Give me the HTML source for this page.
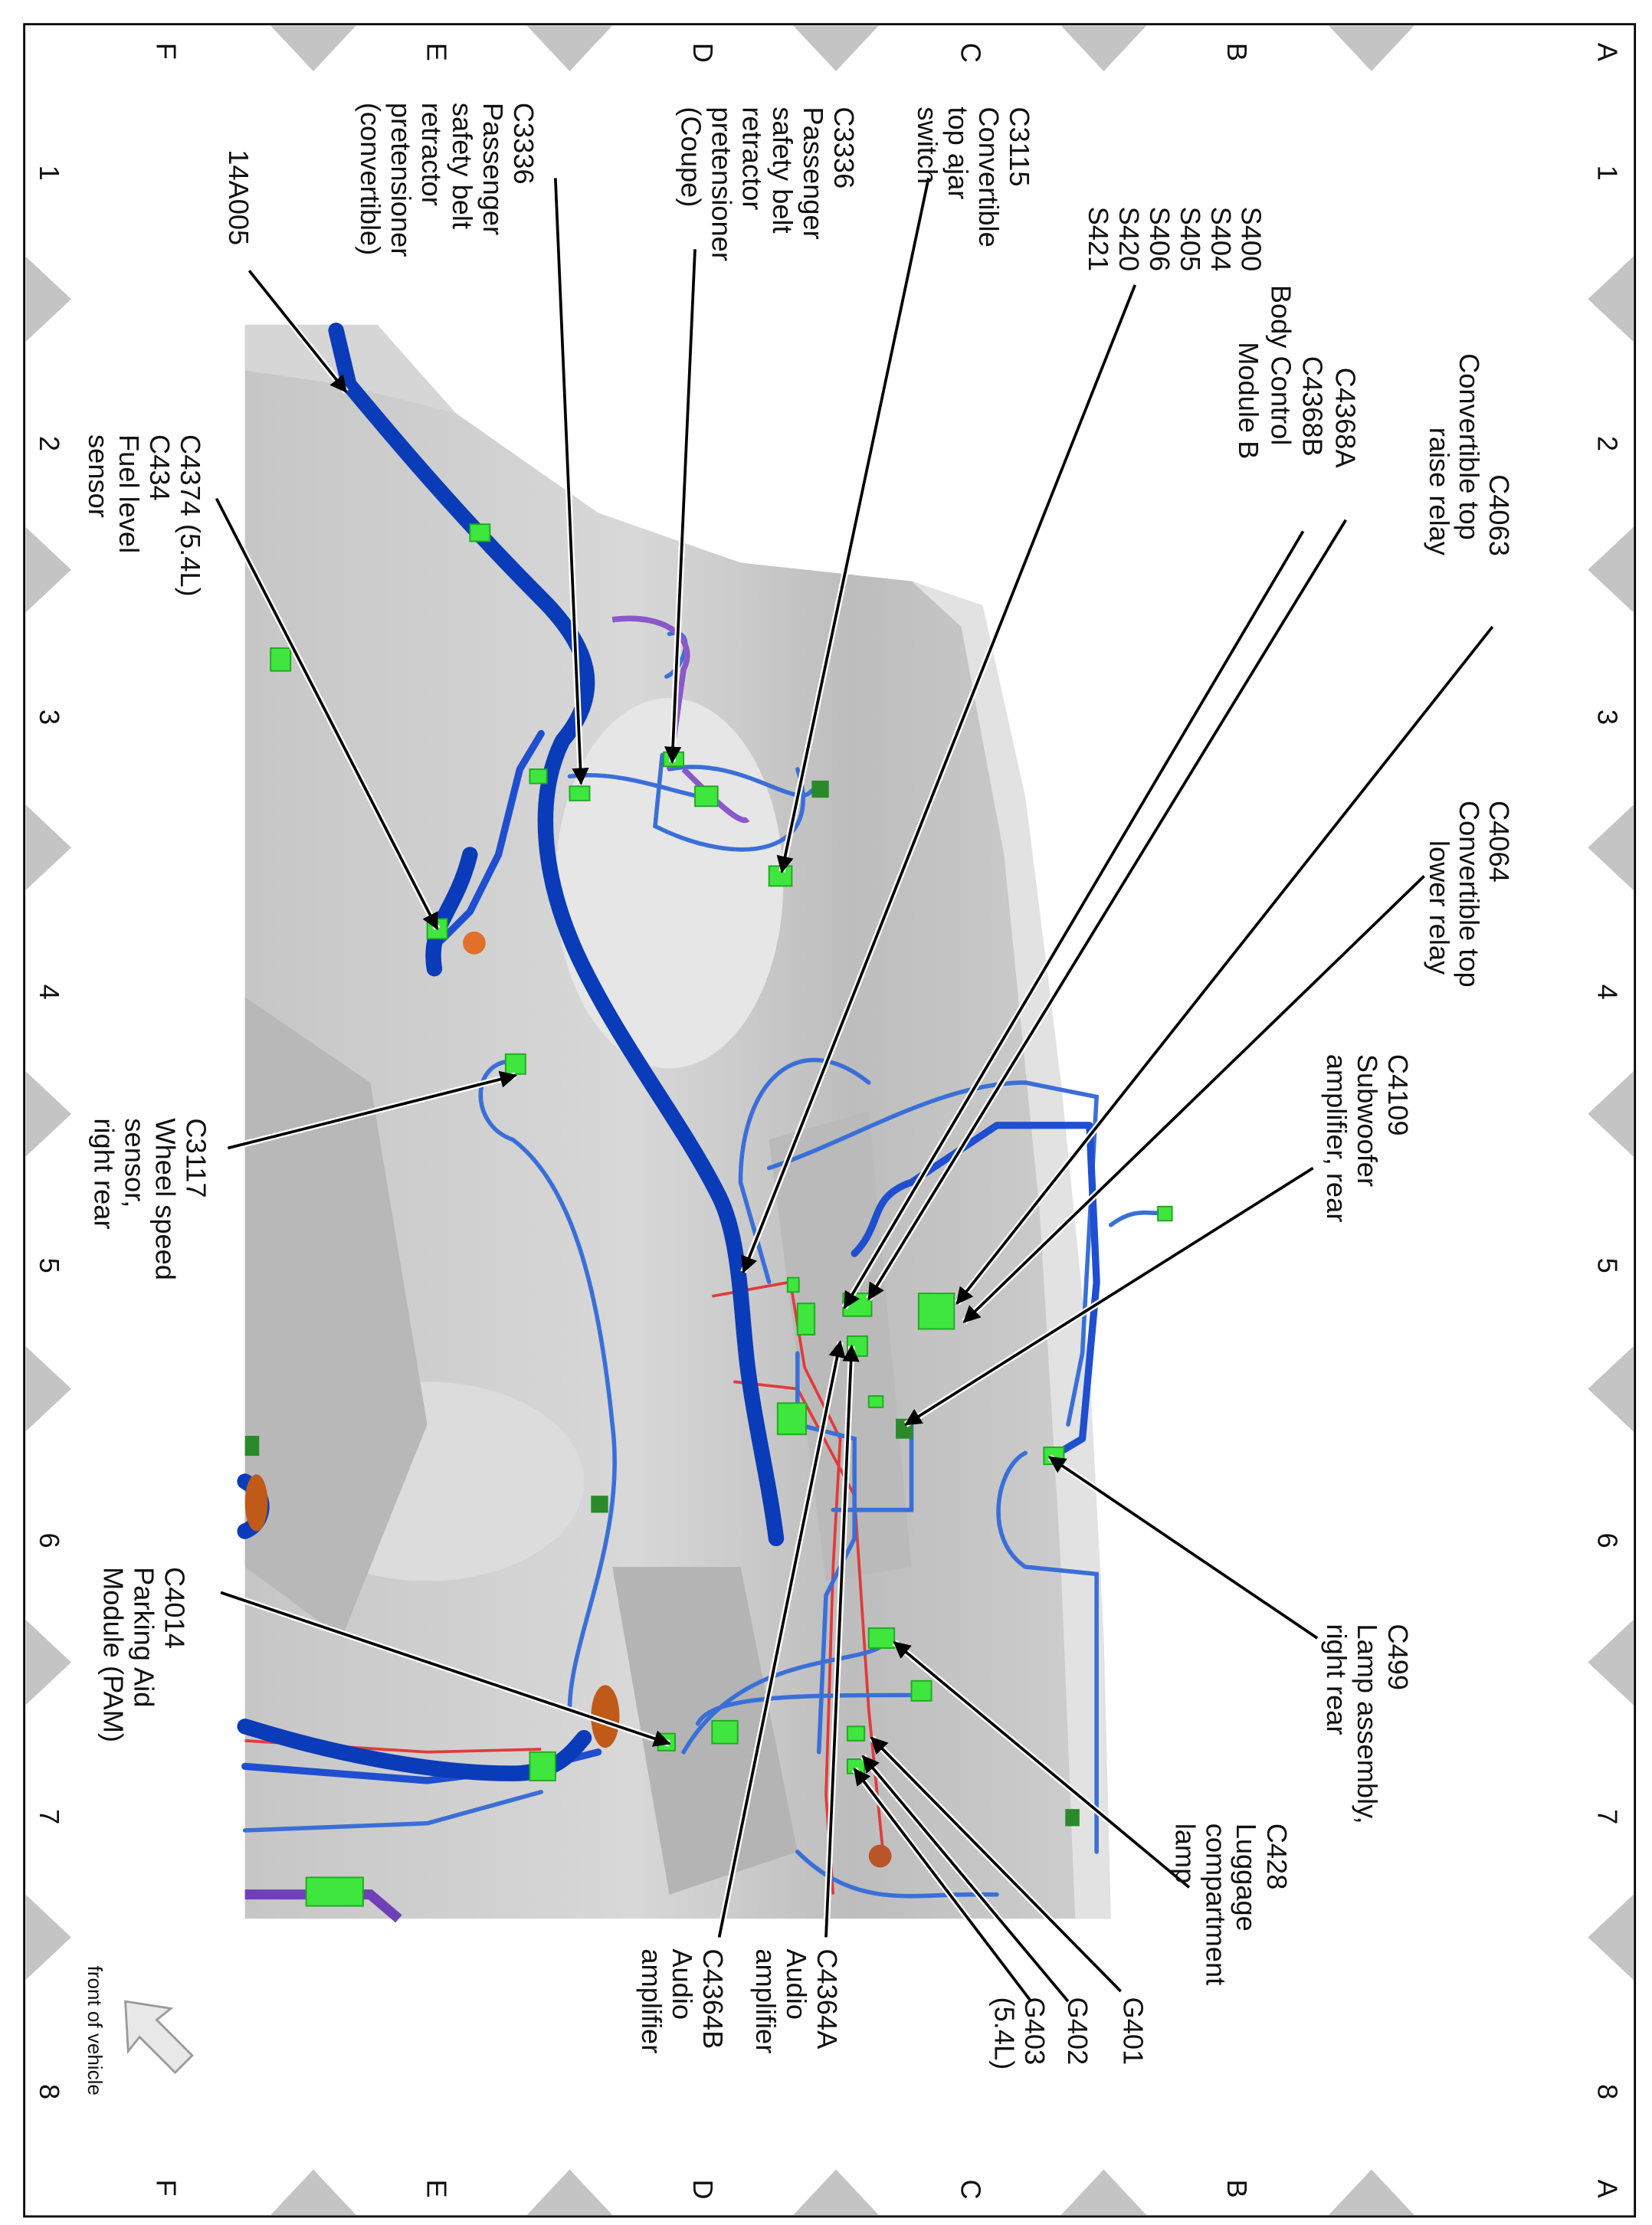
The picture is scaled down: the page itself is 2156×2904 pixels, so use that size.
<!DOCTYPE html>
<html><head><meta charset="utf-8"><style>
html,body{margin:0;padding:0;background:#fff;width:2156px;height:2904px;overflow:hidden}
svg{display:block}
text{font-family:"Liberation Sans",Arial,sans-serif;font-size:19.5px;fill:#111}
.g{font-size:24px}
.ld{stroke:#000;stroke-width:2;fill:none}
.lh{stroke:#fff;stroke-width:4.5;fill:none}
.w{fill:none;stroke:#1f4fd0;stroke-linecap:round;stroke-linejoin:round}
.wt{fill:none;stroke:#0a3bb8;stroke-width:11;stroke-linecap:round;stroke-linejoin:round}
.wl{fill:none;stroke:#3a6fd8;stroke-width:3;stroke-linecap:round}
.r{fill:none;stroke:#e23a3a;stroke-width:2}
.c{fill:#3ee63e;stroke:#1fa81f;stroke-width:1}
.cd{fill:#2a8a2a}
.tri{fill:#c4c4c4}
</style></head><body>
<svg width="2156" height="2904" viewBox="0 0 1160 1562" preserveAspectRatio="none" xmlns="http://www.w3.org/2000/svg">
<defs>
<marker id="ah" viewBox="0 0 10 10" refX="9" refY="5" markerWidth="6" markerHeight="6" orient="auto"><path d="M0,0 L10,5 L0,10 z" fill="#000"/></marker>
<linearGradient id="bg" x1="0" y1="0" x2="1" y2="0"><stop offset="0" stop-color="#c6c6c6"/><stop offset=".45" stop-color="#d8d8d8"/><stop offset=".7" stop-color="#bdbdbd"/><stop offset="1" stop-color="#cfcfcf"/></linearGradient>
</defs>
<rect width="1160" height="1562" fill="#fff"/>
<!-- frame -->
<rect x="17" y="17" width="1131" height="1539" fill="none" stroke="#000" stroke-width="1.5"/>
<!-- edge triangles top -->
<g class="tri">
<polygon points="190,18 250,18 220,50"/><polygon points="370,18 430,18 400,50"/><polygon points="557,18 617,18 587,50"/><polygon points="745,18 805,18 775,50"/><polygon points="933,18 993,18 963,50"/>
<polygon points="190,1555 250,1555 220,1523"/><polygon points="370,1555 430,1555 400,1523"/><polygon points="557,1555 617,1555 587,1523"/><polygon points="745,1555 805,1555 775,1523"/><polygon points="933,1555 993,1555 963,1523"/>
<polygon points="18,180 18,240 50,210"/><polygon points="18,370 18,430 50,400"/><polygon points="18,565 18,625 50,595"/><polygon points="18,752 18,812 50,782"/><polygon points="18,945 18,1005 50,975"/><polygon points="18,1137 18,1197 50,1167"/><polygon points="18,1330 18,1390 50,1360"/>
<polygon points="1147,180 1147,240 1115,210"/><polygon points="1147,370 1147,430 1115,400"/><polygon points="1147,565 1147,625 1115,595"/><polygon points="1147,752 1147,812 1115,782"/><polygon points="1147,945 1147,1005 1115,975"/><polygon points="1147,1137 1147,1197 1115,1167"/><polygon points="1147,1330 1147,1390 1115,1360"/>
</g>
<!-- grid labels -->
<g class="g">
<text transform="translate(1122,30) rotate(90)">A</text><text transform="translate(862,30) rotate(90)">B</text><text transform="translate(675,30) rotate(90)">C</text><text transform="translate(487,30) rotate(90)">D</text><text transform="translate(300,30) rotate(90)">E</text><text transform="translate(110,30) rotate(90)">F</text>
<text transform="translate(1122,1530) rotate(90)">A</text><text transform="translate(862,1530) rotate(90)">B</text><text transform="translate(675,1530) rotate(90)">C</text><text transform="translate(487,1530) rotate(90)">D</text><text transform="translate(300,1530) rotate(90)">E</text><text transform="translate(110,1530) rotate(90)">F</text>
<text transform="translate(28,116) rotate(90)">1</text><text transform="translate(28,306) rotate(90)">2</text><text transform="translate(28,498) rotate(90)">3</text><text transform="translate(28,691) rotate(90)">4</text><text transform="translate(28,883) rotate(90)">5</text><text transform="translate(28,1076) rotate(90)">6</text><text transform="translate(28,1270) rotate(90)">7</text><text transform="translate(28,1463) rotate(90)">8</text>
<text transform="translate(1122,116) rotate(90)">1</text><text transform="translate(1122,306) rotate(90)">2</text><text transform="translate(1122,498) rotate(90)">3</text><text transform="translate(1122,691) rotate(90)">4</text><text transform="translate(1122,883) rotate(90)">5</text><text transform="translate(1122,1076) rotate(90)">6</text><text transform="translate(1122,1270) rotate(90)">7</text><text transform="translate(1122,1463) rotate(90)">8</text>
</g>
<!-- photo body -->
<polygon points="172,228 265,228 320,290 420,360 520,395 640,408 690,425 720,560 745,760 765,960 775,1150 780,1347 172,1347" fill="url(#bg)"/>
<polygon points="640,408 690,425 720,560 745,760 765,960 775,1150 780,1347 755,1347 745,1100 730,850 705,600 675,440" fill="#e2e2e2"/>
<polygon points="172,228 265,228 320,290 240,270 172,260" fill="#d6d6d6"/>
<ellipse cx="470" cy="620" rx="80" ry="130" fill="#e6e6e6"/>
<ellipse cx="300" cy="1040" rx="110" ry="70" fill="#dcdcdc"/>
<polygon points="172,700 260,760 300,1000 240,1150 172,1100" fill="#b8b8b8"/>
<polygon points="430,1100 520,1100 560,1300 470,1330" fill="#b4b4b4"/>
<polygon points="540,800 610,780 640,1100 580,1110" fill="#bababa"/>
<!-- red wires -->
<path class="r" d="M500,910 L555,900 L565,960 L590,1010 L585,1100 L580,1260 L585,1330"/>
<path class="r" d="M515,970 L560,975 L600,1050 L610,1200 L620,1300"/>
<path class="r" d="M172,1222 L300,1230 L380,1228"/>
<!-- thin blue wires -->
<g class="wl">
<path d="M610,760 C560,720 520,760 520,830 L540,900"/>
<path d="M540,820 C600,800 660,760 720,760 L770,770 L760,950 L750,1000"/>
<path d="M720,1020 C700,1030 690,1080 720,1100 L770,1105 L770,1300"/>
<path d="M640,1000 L640,1060 L585,1060"/>
<path d="M360,745 C330,745 330,790 360,800 C400,830 420,900 430,1000 C440,1080 400,1150 400,1200"/>
<path d="M480,1230 C520,1160 600,1170 620,1155"/>
<path d="M490,1210 C500,1190 560,1190 650,1190"/>
<path d="M560,1300 C600,1340 640,1330 680,1330 L700,1330"/>
<path d="M560,540 C580,600 520,610 460,580 L465,530"/>
<path d="M400,545 C440,540 480,560 500,560"/>
<path d="M470,445 C490,440 480,470 468,475"/>
<path d="M470,540 C520,530 560,570 570,555"/>
<path d="M780,860 C800,845 810,855 820,850"/>
<path d="M172,1285 L300,1280 L380,1258"/>
<path d="M560,950 L560,1000 L600,1010 L600,1080 L580,1120 L575,1230"/>
</g>
<path d="M430,435 C470,430 490,450 480,470 L470,540 M480,540 C500,560 520,580 525,575" stroke="#8a58c8" stroke-width="4" fill="none"/>
<path d="M172,1330 L260,1330 L280,1347" stroke="#7040b8" stroke-width="7" fill="none"/>
<!-- medium blue -->
<path class="w" stroke-width="5" d="M600,880 C620,860 610,840 640,830 L700,790 L765,790 L770,900 L760,1010 L735,1025"/>
<path class="w" stroke-width="5" d="M380,515 L365,540 L350,600 L330,640 L310,660"/>
<path class="w" stroke-width="5" d="M172,1240 L300,1250 L380,1240 L420,1230"/>
<!-- thick harness -->
<path class="wt" d="M236,232 L245,270 C270,300 320,360 380,420 C420,460 420,490 395,520 C375,560 380,620 410,680 C440,740 480,790 505,840 C520,870 520,920 525,960 C530,1000 540,1040 545,1080"/>
<path class="wt" d="M172,1212 C230,1230 300,1245 360,1245 C390,1245 400,1232 410,1220"/>
<path class="wt" stroke-width="7" d="M330,600 C320,640 300,650 305,680 M172,1040 C190,1050 185,1070 172,1075"/>
<!-- connectors -->
<g class="c">
<rect x="190" y="455" width="14" height="16"/><rect x="330" y="368" width="14" height="12"/><rect x="466" y="528" width="14" height="10"/><rect x="488" y="552" width="16" height="14"/><rect x="540" y="608" width="16" height="14"/><rect x="400" y="552" width="14" height="10"/><rect x="372" y="540" width="12" height="10"/><rect x="300" y="645" width="14" height="14"/><rect x="355" y="740" width="14" height="14"/><rect x="645" y="908" width="25" height="25"/><rect x="592" y="908" width="20" height="16"/><rect x="560" y="915" width="12" height="22"/><rect x="595" y="938" width="14" height="14"/><rect x="546" y="985" width="20" height="22"/><rect x="610" y="980" width="10" height="8"/><rect x="733" y="1016" width="14" height="12"/><rect x="813" y="847" width="10" height="10"/><rect x="610" y="1143" width="18" height="14"/><rect x="640" y="1180" width="14" height="14"/><rect x="595" y="1212" width="12" height="10"/><rect x="595" y="1235" width="12" height="10"/><rect x="462" y="1217" width="12" height="12"/><rect x="500" y="1208" width="18" height="16"/><rect x="372" y="1230" width="18" height="20"/><rect x="215" y="1318" width="40" height="20"/><rect x="553" y="897" width="8" height="10"/>
</g>
<g class="cd"><rect x="629" y="996" width="12" height="14"/><rect x="570" y="548" width="12" height="12"/><rect x="415" y="1050" width="12" height="12"/><rect x="172" y="1008" width="10" height="14"/><rect x="748" y="1270" width="10" height="12"/></g>
<circle cx="333" cy="662" r="8" fill="#e0702a"/><ellipse cx="425" cy="1205" rx="10" ry="22" fill="#c05a18"/><circle cx="618" cy="1303" r="8" fill="#b8562a"/><ellipse cx="180" cy="1055" rx="8" ry="20" fill="#c05a18"/>
<!-- leader lines -->
<g>
<path class="lh" d="M175,190 L243,275"/><path class="ld" marker-end="url(#ah)" d="M175,190 L243,275"/>
<path class="lh" d="M390,125 L408,550"/><path class="ld" marker-end="url(#ah)" d="M390,125 L408,550"/>
<path class="lh" d="M488,175 L472,535"/><path class="ld" marker-end="url(#ah)" d="M488,175 L472,535"/>
<path class="lh" d="M652,125 L549,612"/><path class="ld" marker-end="url(#ah)" d="M652,125 L549,612"/>
<path class="lh" d="M797,200 L522,893"/><path class="ld" marker-end="url(#ah)" d="M797,200 L522,893"/>
<path class="lh" d="M915,373 L593,918"/><path class="ld" marker-end="url(#ah)" d="M915,373 L593,918"/>
<path class="lh" d="M945,365 L610,912"/><path class="ld" marker-end="url(#ah)" d="M945,365 L610,912"/>
<path class="lh" d="M1048,440 L672,915"/><path class="ld" marker-end="url(#ah)" d="M1048,440 L672,915"/>
<path class="lh" d="M1000,615 L677,928"/><path class="ld" marker-end="url(#ah)" d="M1000,615 L677,928"/>
<path class="lh" d="M922,820 L636,1000"/><path class="ld" marker-end="url(#ah)" d="M922,820 L636,1000"/>
<path class="lh" d="M925,1150 L737,1023"/><path class="ld" marker-end="url(#ah)" d="M925,1150 L737,1023"/>
<path class="lh" d="M835,1325 L628,1153"/><path class="ld" marker-end="url(#ah)" d="M835,1325 L628,1153"/>
<path class="lh" d="M787,1398 L612,1220"/><path class="ld" marker-end="url(#ah)" d="M787,1398 L612,1220"/>
<path class="lh" d="M750,1405 L606,1233"/><path class="ld" marker-end="url(#ah)" d="M750,1405 L606,1233"/>
<path class="lh" d="M724,1405 L600,1242"/><path class="ld" marker-end="url(#ah)" d="M724,1405 L600,1242"/>
<path class="lh" d="M580,1360 L598,945"/><path class="ld" marker-end="url(#ah)" d="M580,1360 L598,945"/>
<path class="lh" d="M505,1360 L590,942"/><path class="ld" marker-end="url(#ah)" d="M505,1360 L590,942"/>
<path class="lh" d="M155,1118 L470,1224"/><path class="ld" marker-end="url(#ah)" d="M155,1118 L470,1224"/>
<path class="lh" d="M160,806 L362,755"/><path class="ld" marker-end="url(#ah)" d="M160,806 L362,755"/>
<path class="lh" d="M152,350 L307,652"/><path class="ld" marker-end="url(#ah)" d="M152,350 L307,652"/>
</g>
<!-- labels -->
<g>
<text transform="translate(1046,333) rotate(90)">C4063</text>
<text transform="translate(1025,248) rotate(90)">Convertible top</text>
<text transform="translate(1004,300) rotate(90)">raise relay</text>
<text transform="translate(1046,562) rotate(90)">C4064</text>
<text transform="translate(1025,562) rotate(90)">Convertible top</text>
<text transform="translate(1004,590) rotate(90)">lower relay</text>
<text transform="translate(975,740) rotate(90)">C4109<tspan x="0" dy="21.5">Subwoofer</tspan><tspan x="0" dy="21.5">amplifier, rear</tspan></text>
<text transform="translate(975,1140) rotate(90)">C499<tspan x="0" dy="21.5">Lamp assembly,</tspan><tspan x="0" dy="21.5">right rear</tspan></text>
<text transform="translate(890,1280) rotate(90)">C428<tspan x="0" dy="21.5">Luggage</tspan><tspan x="0" dy="21.5">compartment</tspan><tspan x="0" dy="21.5">lamp</tspan></text>
<text transform="translate(789,1402) rotate(90)">G401</text>
<text transform="translate(750,1402) rotate(90)">G402</text>
<text transform="translate(720,1402) rotate(90)">G403<tspan x="0" dy="21.5">(5.4L)</tspan></text>
<text transform="translate(574,1368) rotate(90)">C4364A<tspan x="0" dy="21.5">Audio</tspan><tspan x="0" dy="21.5">amplifier</tspan></text>
<text transform="translate(494,1368) rotate(90)">C4364B<tspan x="0" dy="21.5">Audio</tspan><tspan x="0" dy="21.5">amplifier</tspan></text>
<text transform="translate(116,1100) rotate(90)">C4014<tspan x="0" dy="21.5">Parking Aid</tspan><tspan x="0" dy="21.5">Module (PAM)</tspan></text>
<text transform="translate(131,785) rotate(90)">C3117<tspan x="0" dy="21.5">Wheel speed</tspan><tspan x="0" dy="21.5">sensor,</tspan><tspan x="0" dy="21.5">right rear</tspan></text>
<text transform="translate(127,305) rotate(90)">C4374 (5.4L)<tspan x="0" dy="21.5">C434</tspan><tspan x="0" dy="21.5">Fuel level</tspan><tspan x="0" dy="21.5">sensor</tspan></text>
<text transform="translate(161,105) rotate(90)">14A005</text>
<text transform="translate(361,72) rotate(90)">C3336<tspan x="0" dy="21.5">Passenger</tspan><tspan x="0" dy="21.5">safety belt</tspan><tspan x="0" dy="21.5">retractor</tspan><tspan x="0" dy="21.5">pretensioner</tspan><tspan x="0" dy="21.5">(convertible)</tspan></text>
<text transform="translate(586,75) rotate(90)">C3336<tspan x="0" dy="21.5">Passenger</tspan><tspan x="0" dy="21.5">safety belt</tspan><tspan x="0" dy="21.5">retractor</tspan><tspan x="0" dy="21.5">pretensioner</tspan><tspan x="0" dy="21.5">(Coupe)</tspan></text>
<text transform="translate(709,75) rotate(90)">C3115<tspan x="0" dy="21.5">Convertible</tspan><tspan x="0" dy="21.5">top ajar</tspan><tspan x="0" dy="21.5">switch</tspan></text>
<text transform="translate(872,145) rotate(90)">S400<tspan x="0" dy="21.5">S404</tspan><tspan x="0" dy="21.5">S405</tspan><tspan x="0" dy="21.5">S406</tspan><tspan x="0" dy="21.5">S420</tspan><tspan x="0" dy="21.5">S421</tspan></text>
<text transform="translate(938,258) rotate(90)">C4368A</text>
<text transform="translate(915,250) rotate(90)">C4368B</text>
<text transform="translate(893,200) rotate(90)">Body Control</text>
<text transform="translate(870,240) rotate(90)">Module B</text>
<text transform="translate(62,1380) rotate(90)" style="font-size:14px">front of vehicle</text>
</g>
<!-- front arrow -->
<path d="M88,1405 L120,1410 L110,1418 L135,1443 L123,1455 L98,1430 L90,1440 Z" fill="#e8e8e8" stroke="#999" stroke-width="1.5"/>
</svg>
</body></html>
